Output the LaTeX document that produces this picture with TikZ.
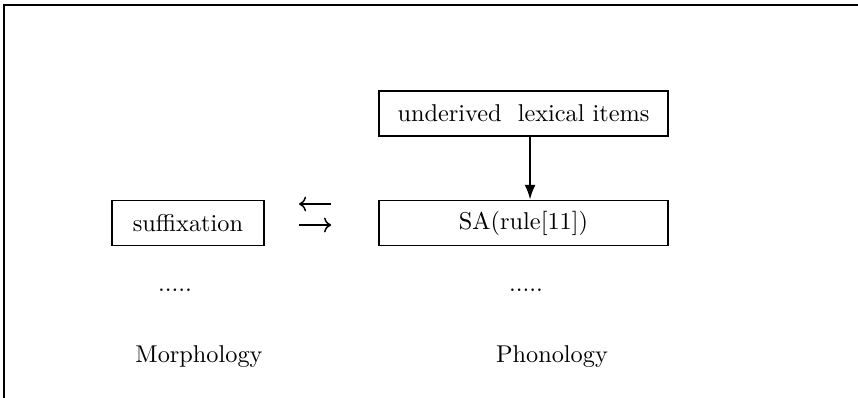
\documentclass[tikz,border=0pt]{standalone}
\usepackage{amsmath}
\usepackage{tikz}
\usetikzlibrary{arrows.meta, calc, positioning}

\begin{document}
\begin{tikzpicture}[x=0.4115pt, y=-0.4115pt, every node/.style={font=\normalsize},
		rulebox/.style={draw, thick, minimum height=45*0.4115pt, inner sep=0pt},
		swap/.style={line width=0.6pt, -{Computer Modern Rightarrow}}]
		\useasboundingbox (0,0) rectangle (858,398);
		% frame (only top and left edges are visible)
		\draw[line width=0.9pt] (858,5) -- (4,5) -- (4,398);
		\node[rulebox, minimum width=289*0.4115pt] (items) at (523.5,113.5) {underived\ \ lexical items};
		\node[rulebox, minimum width=289*0.4115pt] (sa) at (523.5,223) {SA(rule[11])};
		\node[rulebox, minimum width=152*0.4115pt] (suffix) at (188,223) {suffixation};
		\draw[thick, -{Latex[length=6pt, width=4.5pt]}] ([xshift=2.7pt]items.south) -- ([xshift=2.7pt]sa.north);
		\draw[swap, shorten <=19.3pt, shorten >=14pt] (sa.west |- 0,204) -- (suffix.east |- 0,204);
		\draw[swap, shorten <=14pt, shorten >=19.3pt] (suffix.east |- 0,225) -- (sa.west |- 0,225);
		\node (mdots) at (175,290) {.....};
		\node (pdots) at (526,290) {.....};
		\node (morph) at (199,357) {Morphology};
		\node (phon) at (552,357) {Phonology};
\end{tikzpicture}
\end{document}
